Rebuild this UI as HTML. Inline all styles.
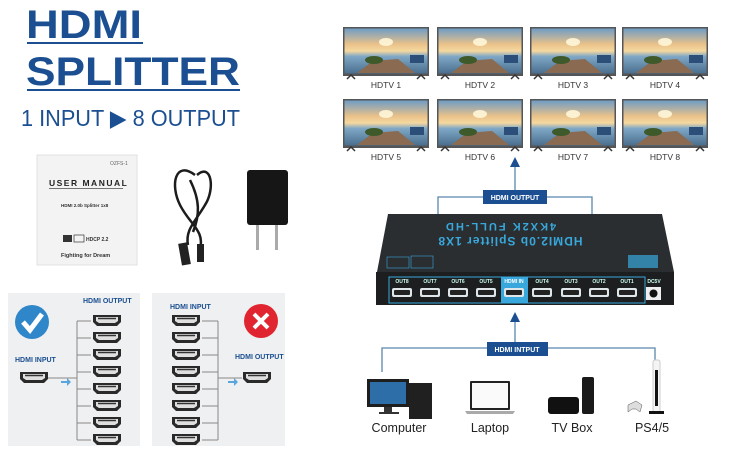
<!DOCTYPE html>
<html><head><meta charset="utf-8"><style>
html,body{margin:0;padding:0;background:#fff;width:743px;height:452px;overflow:hidden}
svg{display:block;font-family:"Liberation Sans",sans-serif}
</style></head><body>
<svg width="743" height="452" viewBox="0 0 743 452" xmlns="http://www.w3.org/2000/svg">
<defs>
<linearGradient id="sky" x1="0" y1="0" x2="0" y2="1">
<stop offset="0" stop-color="#6f9cc4"/><stop offset="0.35" stop-color="#e9c28a"/><stop offset="0.5" stop-color="#f6d9a0"/><stop offset="0.62" stop-color="#7fa8c6"/><stop offset="1" stop-color="#4a6e8e"/>
</linearGradient>
<g id="tv">
<rect x="0" y="0" width="86" height="49" fill="#555"/>
<rect x="1.5" y="1.5" width="83" height="45" fill="url(#sky)"/>
<ellipse cx="43" cy="15" rx="7" ry="4" fill="#fff6d8" opacity="0.9"/>
<polygon points="14,46 30,34 55,32 72,46" fill="#8a6a50"/>
<ellipse cx="31" cy="33" rx="9" ry="4" fill="#3e5a2a"/>
<rect x="67" y="28" width="14" height="8" fill="#2c4f7a"/>
<path d="M4 52 L8 48 L12 52 M74 52 L78 48 L82 52" stroke="#333" stroke-width="1.5" fill="none"/>
</g>
<g id="port"><path d="M0 0 H28 V7 L24 11 H4 L0 7 Z" fill="#2a2a2a"/><path d="M3 2 H25 V6 L22 8 H6 L3 6 Z" fill="#fff" opacity="0.85"/><path d="M5 3.5 H23" stroke="#333" stroke-width="1.5"/></g>
<g id="dport"><rect x="0" y="0" width="20" height="9" rx="2" fill="#dfe6ea"/><rect x="2" y="2" width="16" height="5" rx="1" fill="#222"/></g>
</defs>

<!-- Title -->
<g fill="#1b4f91" font-weight="bold">
<text x="26" y="38" font-size="40" textLength="116" lengthAdjust="spacingAndGlyphs">HDMI</text>
<rect x="27" y="42" width="116" height="2"/>
<text x="26" y="85" font-size="40" textLength="214" lengthAdjust="spacingAndGlyphs">SPLITTER</text>
<rect x="27" y="89" width="213" height="2"/>
</g>
<text x="21" y="126" font-size="23" fill="#1b4f91" textLength="219" lengthAdjust="spacingAndGlyphs">1 INPUT ▶ 8 OUTPUT</text>

<!-- Manual -->
<rect x="37" y="155" width="100" height="110" fill="#f3f3f3" stroke="#e2e2e2"/>
<text x="110" y="165" font-size="5" fill="#666">OZFS-1</text>
<text x="49" y="186" font-size="8.5" font-weight="bold" fill="#222" letter-spacing="1.5">USER MANUAL</text>
<rect x="49" y="188" width="74" height="0.8" fill="#555"/>
<text x="61" y="207" font-size="4.5" font-weight="bold" fill="#333">HDMI 2.0b Splitter 1x8</text>
<rect x="63" y="235" width="9" height="7" fill="#333"/><rect x="74" y="235" width="10" height="7" fill="none" stroke="#333" stroke-width="0.7"/>
<text x="86" y="241" font-size="5" font-weight="bold" fill="#333">HDCP 2.2</text>
<text x="61" y="257" font-size="5.5" font-weight="bold" fill="#333">Fighting for Dream</text>

<!-- Cable -->
<g fill="none" stroke="#1c1c1c" stroke-width="2.5">
<path d="M195 175 C175 160 170 185 180 205 C190 225 205 230 200 250"/>
<path d="M197 175 C212 162 215 190 205 205 C195 222 185 230 188 245"/>
<path d="M190 180 C200 200 200 215 193 232"/>
</g>
<rect x="180" y="243" width="9" height="22" fill="#222" transform="rotate(-10 184 254)"/>
<rect x="197" y="244" width="7" height="18" fill="#222"/>

<!-- Charger -->
<rect x="247" y="170" width="41" height="55" rx="3" fill="#161616"/>
<rect x="256" y="225" width="3" height="25" fill="#aaa"/><rect x="275" y="225" width="3" height="25" fill="#aaa"/>

<!-- Left panel -->
<rect x="8" y="293" width="132" height="153" fill="#eff0f1"/>
<circle cx="32" cy="322" r="17" fill="#2f86c9"/>
<path d="M23 322 L30 330 L42 314" stroke="#fff" stroke-width="5" fill="none"/>
<text x="83" y="303" font-size="7" font-weight="bold" fill="#1b4f91">HDMI OUTPUT</text>
<text x="15" y="362" font-size="7" font-weight="bold" fill="#1b4f91">HDMI INPUT</text>
<use href="#port" x="20" y="372"/>
<g stroke="#888" stroke-width="1" fill="none">
<path d="M48 378 H77 M77 321 V440"/>
<path d="M77 321 H91 M77 338 H91 M77 355 H91 M77 372 H91 M77 389 H91 M77 406 H91 M77 423 H91 M77 440 H91"/>
</g>
<path d="M61 381 H67 V378 L71 382 L67 386 V383 H61 Z" fill="#5aa6dc"/>
<use href="#port" x="93" y="315"/><use href="#port" x="93" y="332"/><use href="#port" x="93" y="349"/><use href="#port" x="93" y="366"/>
<use href="#port" x="93" y="383"/><use href="#port" x="93" y="400"/><use href="#port" x="93" y="417"/><use href="#port" x="93" y="434"/>

<!-- Right panel -->
<rect x="152" y="293" width="133" height="153" fill="#eff0f1"/>
<circle cx="261" cy="321" r="17" fill="#e02531"/>
<path d="M254 314 L268 328 M268 314 L254 328" stroke="#fff" stroke-width="4"/>
<text x="170" y="309" font-size="7" font-weight="bold" fill="#1b4f91">HDMI INPUT</text>
<text x="235" y="359" font-size="7" font-weight="bold" fill="#1b4f91">HDMI OUTPUT</text>
<use href="#port" x="172" y="315"/><use href="#port" x="172" y="332"/><use href="#port" x="172" y="349"/><use href="#port" x="172" y="366"/>
<use href="#port" x="172" y="383"/><use href="#port" x="172" y="400"/><use href="#port" x="172" y="417"/><use href="#port" x="172" y="434"/>
<g stroke="#888" stroke-width="1" fill="none">
<path d="M202 321 H218 M202 338 H218 M202 355 H218 M202 372 H218 M202 389 H218 M202 406 H218 M202 423 H218 M202 440 H218 M218 321 V440 M218 378 H242"/>
</g>
<path d="M228 381 H234 V378 L238 382 L234 386 V383 H228 Z" fill="#5aa6dc"/>
<use href="#port" x="243" y="372"/>

<!-- TVs -->
<use href="#tv" x="343" y="27"/><use href="#tv" x="437" y="27"/><use href="#tv" x="530" y="27"/><use href="#tv" x="622" y="27"/>
<use href="#tv" x="343" y="99"/><use href="#tv" x="437" y="99"/><use href="#tv" x="530" y="99"/><use href="#tv" x="622" y="99"/>
<g font-size="8.5" fill="#333" text-anchor="middle">
<text x="386" y="88">HDTV 1</text><text x="480" y="88">HDTV 2</text><text x="573" y="88">HDTV 3</text><text x="665" y="88">HDTV 4</text>
<text x="386" y="160">HDTV 5</text><text x="480" y="160">HDTV 6</text><text x="573" y="160">HDTV 7</text><text x="665" y="160">HDTV 8</text>
</g>

<!-- Output connectors -->
<g stroke="#5b87ad" stroke-width="1.3" fill="none">
<path d="M515 190 V163"/>
<path d="M438 270 V197 H592 V270"/>
</g>
<polygon points="510,167 515,157 520,167" fill="#1b4f91"/>
<rect x="483" y="190" width="64" height="14" fill="#1b4f91"/>
<text x="515" y="200" font-size="7" font-weight="bold" fill="#fff" text-anchor="middle">HDMI OUTPUT</text>

<!-- Device -->
<polygon points="388,214 662,214 674,272 377,272" fill="#2b2e31"/>
<rect x="376" y="272" width="298" height="33" fill="#1c1e20"/>
<g transform="rotate(180 510 233)" fill="#38a8dc" font-weight="bold" text-anchor="middle">
<text x="510" y="229" font-size="12" letter-spacing="1">HDMI2.0b Splitter 1X8</text>
<text x="520" y="243" font-size="11" letter-spacing="2">4KX2K FULL-HD</text>
</g>
<rect x="387" y="257" width="22" height="11" fill="none" stroke="#38a8dc" stroke-width="0.6"/>
<rect x="411" y="256" width="22" height="12" fill="none" stroke="#38a8dc" stroke-width="0.6"/>
<rect x="628" y="255" width="30" height="13" fill="#38a8dc" opacity="0.7"/>
<rect x="389" y="277" width="256" height="26" fill="none" stroke="#38a8dc" stroke-width="1"/>
<rect x="501" y="277" width="27" height="26" fill="#38a8dc"/>
<g font-size="5" font-weight="bold" fill="#cfe" text-anchor="middle">
<text x="402" y="283">OUT8</text><text x="430" y="283">OUT7</text><text x="458" y="283">OUT6</text><text x="486" y="283">OUT5</text>
<text x="514" y="283" fill="#fff">HDMI IN</text>
<text x="542" y="283">OUT4</text><text x="571" y="283">OUT3</text><text x="599" y="283">OUT2</text><text x="627" y="283">OUT1</text>
<text x="654" y="283">DC5V</text>
</g>
<use href="#dport" x="392" y="288"/><use href="#dport" x="420" y="288"/><use href="#dport" x="448" y="288"/><use href="#dport" x="476" y="288"/>
<use href="#dport" x="504" y="288"/>
<use href="#dport" x="532" y="288"/><use href="#dport" x="561" y="288"/><use href="#dport" x="589" y="288"/><use href="#dport" x="617" y="288"/>
<rect x="646" y="287" width="15" height="13" fill="#eee"/><circle cx="653.5" cy="293.5" r="4" fill="#111"/>

<!-- Input connectors -->
<g stroke="#5b87ad" stroke-width="1.3" fill="none">
<path d="M515 342 V318"/>
<path d="M382 372 V348 H655 V372"/>
</g>
<polygon points="510,322 515,312 520,322" fill="#1b4f91"/>
<rect x="487" y="342" width="61" height="14" fill="#1b4f91"/>
<text x="517" y="352" font-size="7" font-weight="bold" fill="#fff" text-anchor="middle">HDMI INTPUT</text>

<!-- Sources -->
<rect x="367" y="379" width="42" height="28" fill="#1e1e1e"/>
<rect x="370" y="382" width="36" height="22" fill="#2d6ea8"/>
<rect x="384" y="407" width="8" height="6" fill="#333"/><rect x="379" y="412" width="20" height="2" fill="#333"/>
<rect x="409" y="383" width="23" height="36" fill="#202020"/>
<rect x="470" y="381" width="40" height="29" rx="1" fill="#222"/>
<rect x="472" y="383" width="36" height="25" fill="#fafafa"/>
<path d="M465 411 H515 L513 414 H467 Z" fill="#aaa"/>
<rect x="548" y="397" width="31" height="17" rx="3" fill="#111"/>
<rect x="582" y="377" width="12" height="37" rx="2" fill="#1a1a1a"/>
<path d="M628 405 L636 401 L642 405 L640 412 L636 409 L632 409 L628 412 Z" fill="#ddd" stroke="#555" stroke-width="0.5"/>
<rect x="653" y="360" width="7" height="52" rx="2" fill="#f4f4f4" stroke="#ccc"/>
<rect x="655" y="370" width="3" height="36" fill="#111"/>
<rect x="649" y="411" width="15" height="3" fill="#111"/>
<g font-size="12.5" fill="#222" text-anchor="middle">
<text x="399" y="432">Computer</text><text x="490" y="432">Laptop</text><text x="572" y="432">TV Box</text><text x="652" y="432">PS4/5</text>
</g>
</svg>
</body></html>
